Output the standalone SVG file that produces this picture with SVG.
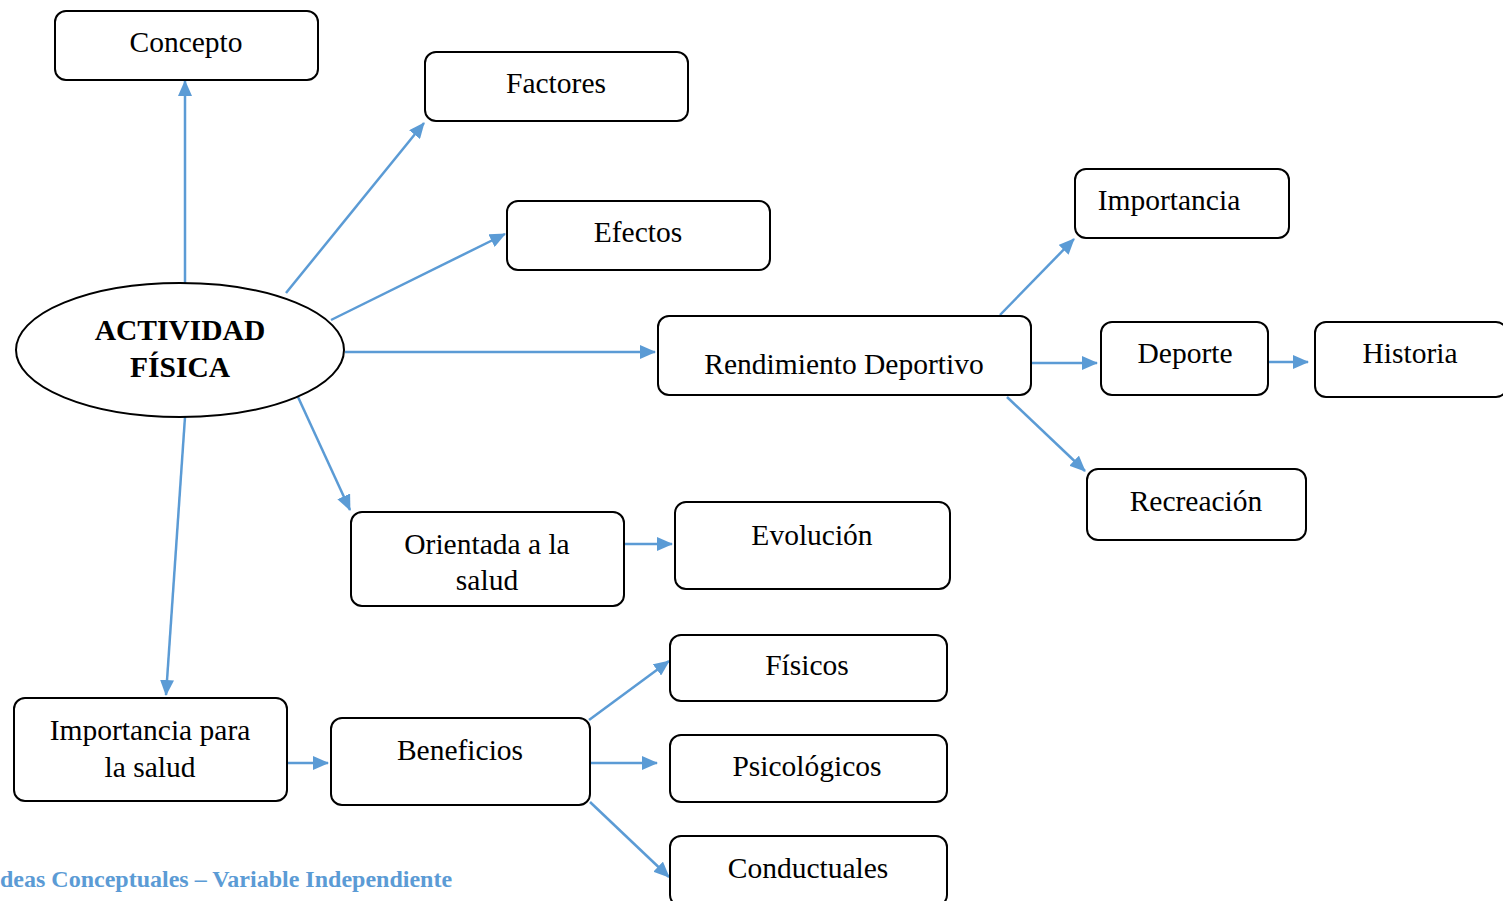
<svg xmlns="http://www.w3.org/2000/svg" width="1503" height="901" viewBox="0 0 1503 901">
<style>
.box{fill:#fff;stroke:#000;stroke-width:2}
.t{font-family:"Liberation Serif","Times New Roman",serif;font-size:29.5px;fill:#000;text-anchor:middle}
.b{font-weight:bold;font-size:29.5px}
.c{stroke:#5B9BD5;stroke-width:2.5;fill:none;marker-end:url(#ah)}
.cap{font-family:"Liberation Serif","Times New Roman",serif;font-size:24px;font-weight:bold;fill:#5B9BD5}
</style>
<defs>
<marker id="ah" markerUnits="userSpaceOnUse" markerWidth="16" markerHeight="14" refX="15" refY="7" orient="auto">
<path d="M0,0 L16,7 L0,14 Z" fill="#5B9BD5"/>
</marker>
</defs>
<rect width="1503" height="901" fill="#fff"/>
<g id="connectors">
<line class="c" x1="185" y1="283" x2="185" y2="81"/>
<line class="c" x1="286" y1="293" x2="424" y2="123"/>
<line class="c" x1="331" y1="320" x2="505" y2="234"/>
<line class="c" x1="345" y1="352" x2="655" y2="352"/>
<line class="c" x1="298" y1="397" x2="350" y2="510"/>
<line class="c" x1="185" y1="417" x2="166" y2="695"/>
<line class="c" x1="1000" y1="315" x2="1074" y2="239"/>
<line class="c" x1="1032" y1="363" x2="1097" y2="363"/>
<line class="c" x1="1269" y1="362" x2="1308" y2="362"/>
<line class="c" x1="1007" y1="397" x2="1085" y2="471"/>
<line class="c" x1="624" y1="544" x2="672" y2="544"/>
<line class="c" x1="288" y1="763" x2="328" y2="763"/>
<line class="c" x1="589" y1="720" x2="669" y2="661"/>
<line class="c" x1="591" y1="763" x2="657" y2="763"/>
<line class="c" x1="590" y1="802" x2="669" y2="877"/>
</g>
<g id="actividad">
<ellipse cx="180" cy="350" rx="164" ry="67" fill="#fff" stroke="#000" stroke-width="2"/>
<text class="t b" x="180" y="340">ACTIVIDAD</text>
<text class="t b" x="180" y="377">FÍSICA</text>
</g>
<g id="concepto"><rect class="box" x="55" y="11" width="263" height="69" rx="11"/><text class="t" x="186" y="52">Concepto</text></g>
<g id="factores"><rect class="box" x="425" y="52" width="263" height="69" rx="11"/><text class="t" x="556" y="93">Factores</text></g>
<g id="efectos"><rect class="box" x="507" y="201" width="263" height="69" rx="11"/><text class="t" x="638" y="242">Efectos</text></g>
<g id="rendimiento"><rect class="box" x="658" y="316" width="373" height="79" rx="11"/><text class="t" x="844" y="374">Rendimiento Deportivo</text></g>
<g id="importancia"><rect class="box" x="1075" y="169" width="214" height="69" rx="11"/><text class="t" x="1169" y="210">Importancia</text></g>
<g id="deporte"><rect class="box" x="1101" y="322" width="167" height="73" rx="11"/><text class="t" x="1185" y="363">Deporte</text></g>
<g id="historia"><rect class="box" x="1315" y="322" width="192" height="75" rx="11"/><text class="t" x="1410" y="363">Historia</text></g>
<g id="recreacion"><rect class="box" x="1087" y="469" width="219" height="71" rx="11"/><text class="t" x="1196" y="511">Recreación</text></g>
<g id="orientada"><rect class="box" x="351" y="512" width="273" height="94" rx="11"/><text class="t" x="487" y="554">Orientada a la</text><text class="t" x="487" y="590">salud</text></g>
<g id="evolucion"><rect class="box" x="675" y="502" width="275" height="87" rx="11"/><text class="t" x="812" y="545">Evolución</text></g>
<g id="importancia-salud"><rect class="box" x="14" y="698" width="273" height="103" rx="11"/><text class="t" x="150" y="740">Importancia para</text><text class="t" x="150" y="777">la salud</text></g>
<g id="beneficios"><rect class="box" x="331" y="718" width="259" height="87" rx="11"/><text class="t" x="460" y="760">Beneficios</text></g>
<g id="fisicos"><rect class="box" x="670" y="635" width="277" height="66" rx="11"/><text class="t" x="807" y="675">Físicos</text></g>
<g id="psicologicos"><rect class="box" x="670" y="735" width="277" height="67" rx="11"/><text class="t" x="807" y="776">Psicológicos</text></g>
<g id="conductuales"><rect class="box" x="670" y="836" width="277" height="70" rx="11"/><text class="t" x="808" y="878">Conductuales</text></g>
<text class="cap" x="0" y="887">deas Conceptuales – Variable Independiente</text>
</svg>
